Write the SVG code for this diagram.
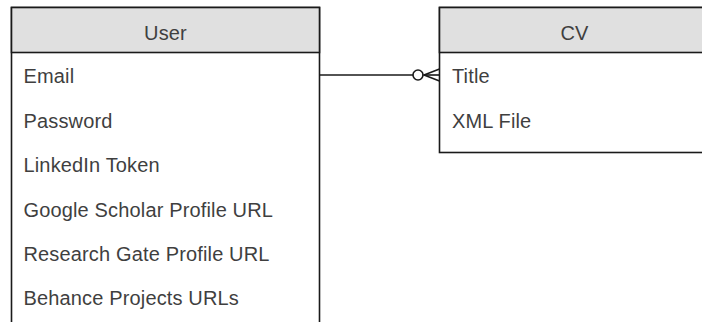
<svg xmlns="http://www.w3.org/2000/svg" width="702" height="322" viewBox="0 0 702 322">
<style>
.box{fill:#ffffff;stroke:#1a1a1a;stroke-width:1.6}
.hdr{fill:#e0e0e0;stroke:#1a1a1a;stroke-width:1.6}
.t{font-family:"Liberation Sans",Arial,sans-serif;font-size:20px;fill:#3f3f3f;letter-spacing:0.15px}
.h{text-anchor:middle}
.c{fill:none;stroke:#1a1a1a;stroke-width:1.6}
</style>
<rect width="702" height="322" fill="#ffffff"/>
<g id="user">
<rect class="box" x="11.5" y="7.5" width="308" height="330"/>
<rect class="hdr" x="11.5" y="7.5" width="308" height="45"/>
<text class="t h" x="165.5" y="40">User</text>
<text class="t" x="23.5" y="83">Email</text>
<text class="t" x="23.5" y="127.5">Password</text>
<text class="t" x="23.5" y="172">LinkedIn Token</text>
<text class="t" x="23.5" y="216.5">Google Scholar Profile URL</text>
<text class="t" x="23.5" y="261">Research Gate Profile URL</text>
<text class="t" x="23.5" y="305">Behance Projects URLs</text>
</g>
<g id="cv">
<rect class="box" x="439.5" y="7.5" width="270" height="145"/>
<rect class="hdr" x="439.5" y="7.5" width="270" height="45"/>
<text class="t h" x="574.5" y="40">CV</text>
<text class="t" x="452" y="83">Title</text>
<text class="t" x="452" y="127.5">XML File</text>
</g>
<g id="connectors">
<line class="c" x1="319.5" y1="75" x2="413" y2="75"/>
<circle cx="418" cy="75" r="5" fill="#ffffff" stroke="#1a1a1a" stroke-width="1.6"/>
<polyline class="c" points="439.5,69 424,75 439.5,81"/>
<line class="c" x1="424" y1="75" x2="439.5" y2="75"/>
</g>
</svg>
